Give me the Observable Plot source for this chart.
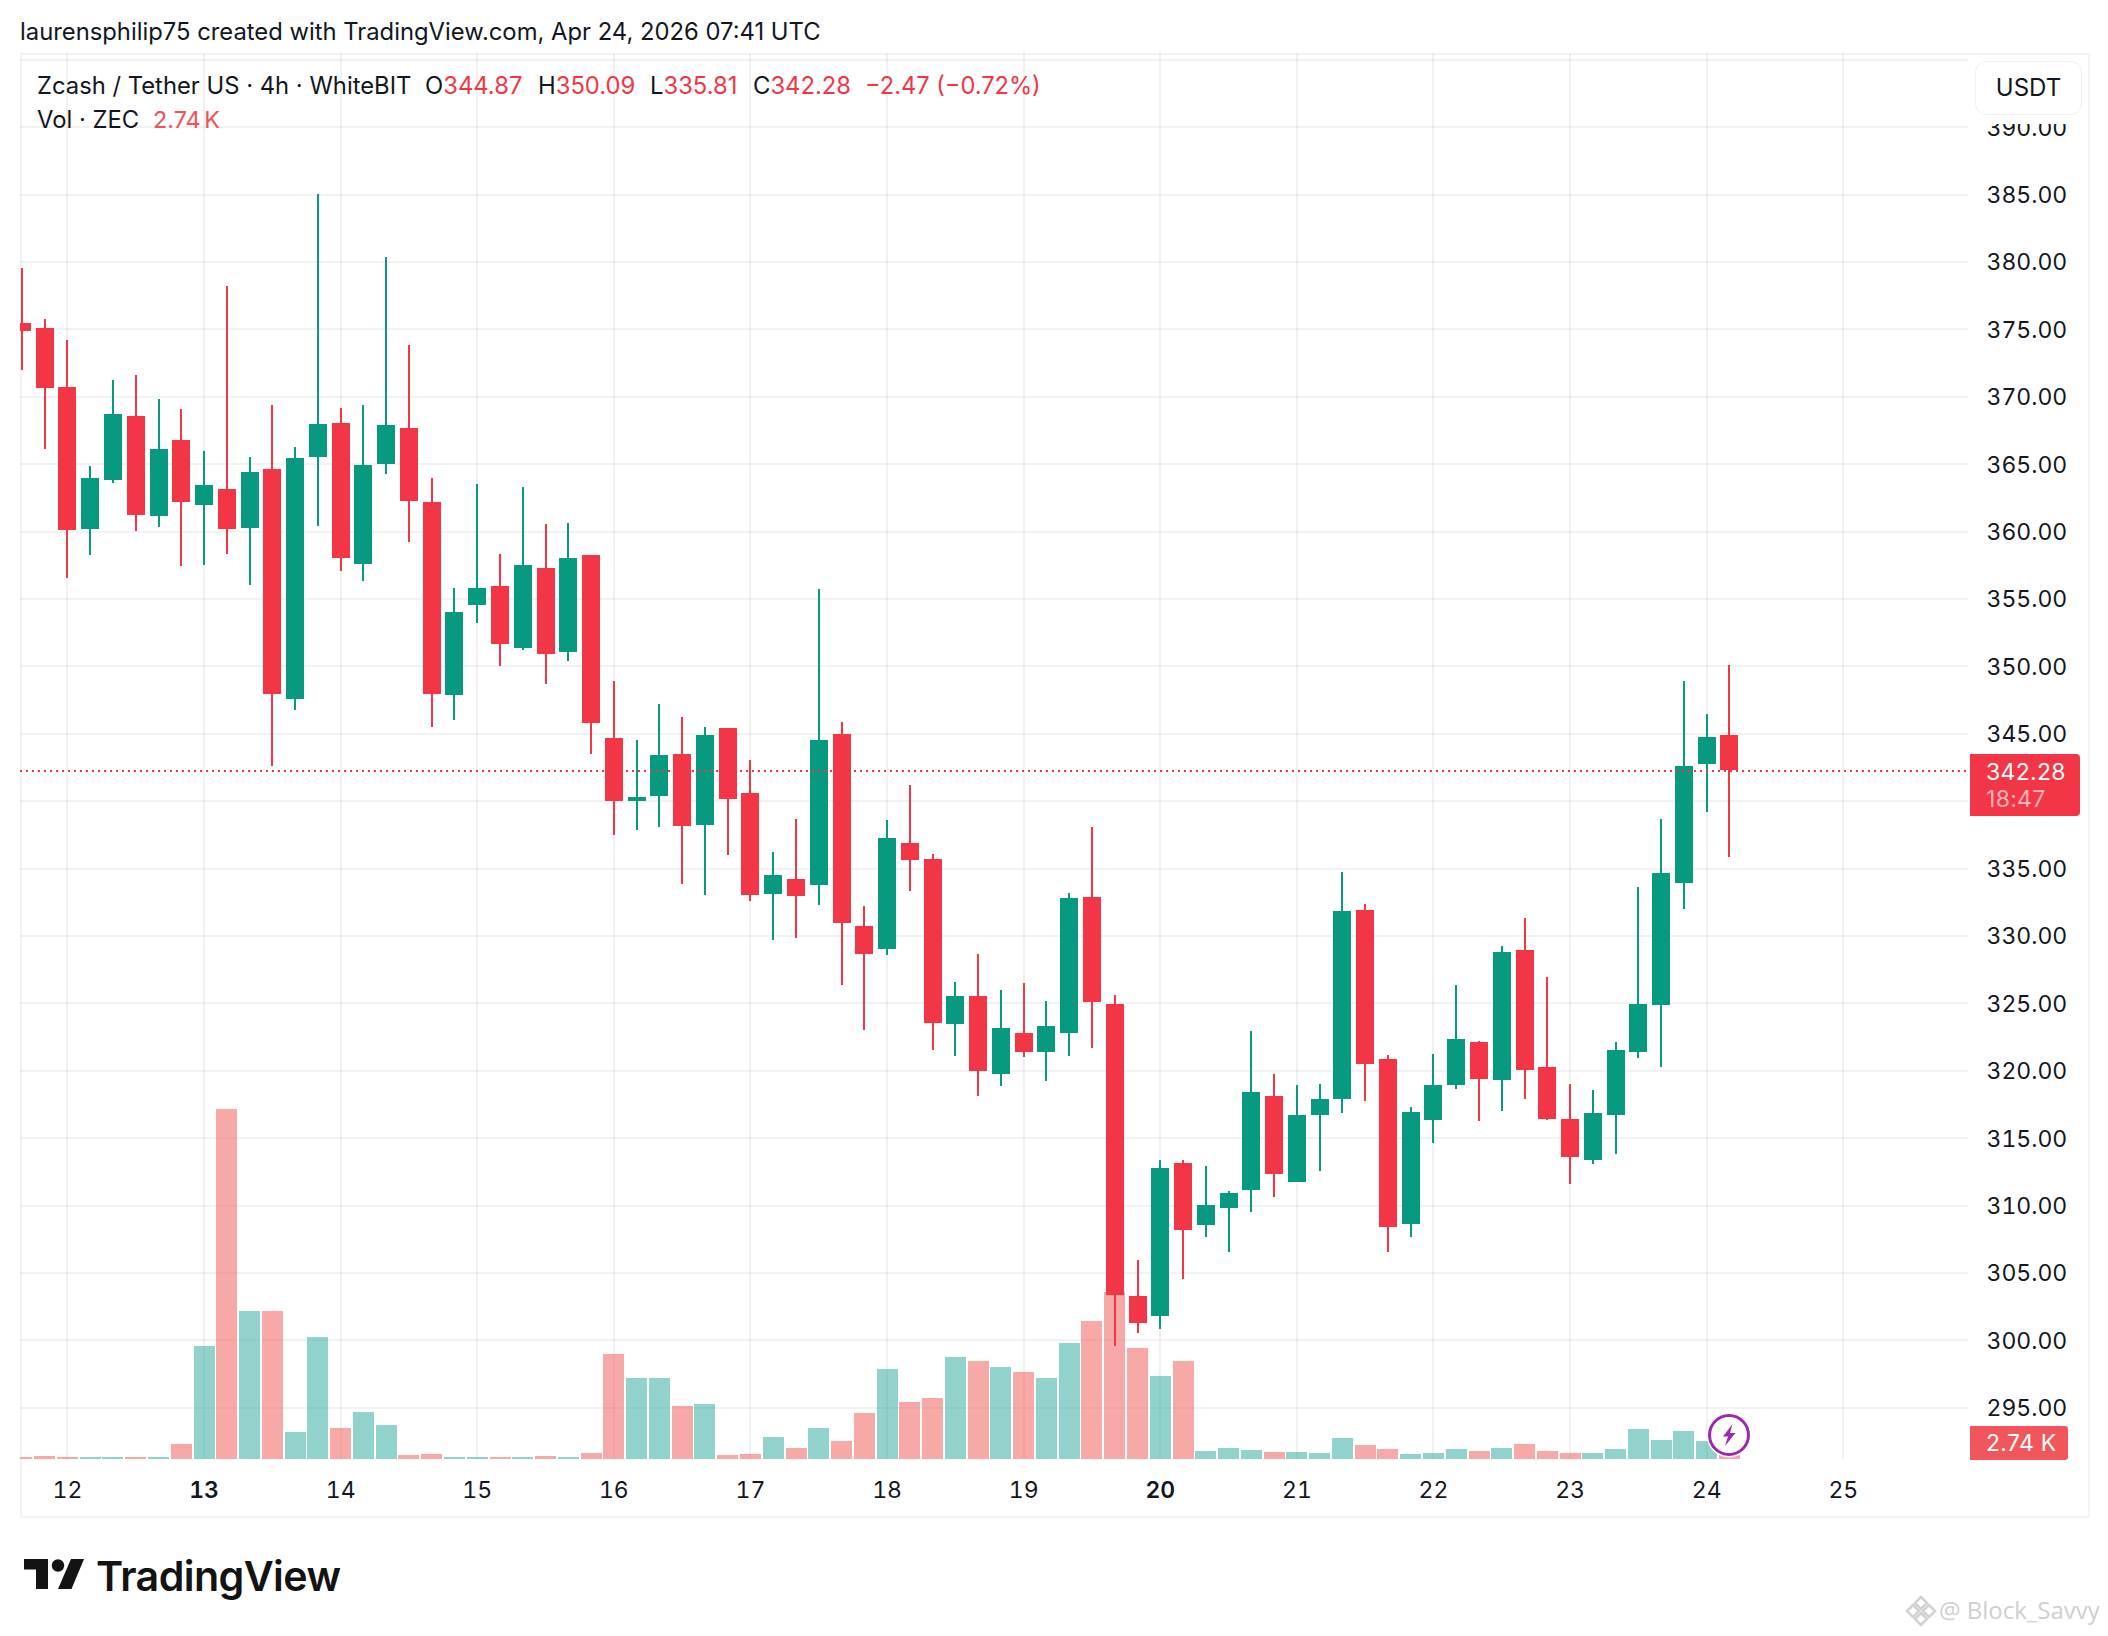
<!DOCTYPE html>
<html>
<head>
<meta charset="utf-8">
<script src="https://cdn.jsdelivr.net/npm/d3@7"></script>
<script src="https://cdn.jsdelivr.net/npm/@observablehq/plot@0.6"></script>
<style>
  html,body{margin:0;padding:0;background:#fff;}
  #page{position:relative;width:2108px;height:1636px;overflow:hidden;font-family:Inter,"Liberation Sans",sans-serif;color:#131722;background:#fff;}
  #page > *{position:absolute;}
  .t{position:absolute;white-space:nowrap;font-size:23.8px;line-height:28px;}
  .r{color:#f23645;}
  svg{display:block;}
</style>
</head>
<body>
<div id="page">
  <div class="t" style="left:20px;top:18px;">laurensphilip75 created with TradingView.com, Apr 24, 2026 07:41 UTC</div>
  <div style="left:20px;top:53px;width:2066px;height:1461px;border:2px solid #f3f3f3;"></div>
  <div id="chart" style="left:0;top:53px;"></div>

  <div class="t" style="left:37px;top:72px;">Zcash / Tether US · 4h · WhiteBIT</div>
  <div class="t" style="left:425px;top:72px;">O<span class="r">344.87</span></div>
  <div class="t" style="left:538px;top:72px;">H<span class="r">350.09</span></div>
  <div class="t" style="left:650px;top:72px;">L<span class="r">335.81</span></div>
  <div class="t" style="left:753px;top:72px;">C<span class="r">342.28</span></div>
  <div class="t r" style="left:865px;top:72px;font-size:23.6px;">−2.47 (−0.72%)</div>
  <div class="t" style="left:37px;top:106px;">Vol · ZEC</div>
  <div class="t r" style="left:153px;top:106px;color:#f0525a;font-size:23.4px;word-spacing:-3px;">2.74 K</div>

  <div style="left:1975px;top:56px;width:107px;height:68px;background:#fff;"></div>
  <div class="t" style="left:1975px;top:61px;width:105px;height:52px;line-height:52px;text-align:center;border:1px solid #f0f0f0;border-radius:11px;background:#fff;font-size:24px;">USDT</div>

  <div style="left:1970px;top:754px;width:110px;height:62px;background:#f23645;border-radius:0 4px 4px 0;"></div>
  <div class="t" style="left:1986px;top:758px;color:#fff;font-size:23px;letter-spacing:.3px;">342.28</div>
  <div class="t" style="left:1986px;top:785px;color:#fbb4ba;font-size:23px;letter-spacing:.3px;">18:47</div>

  <div style="left:1970px;top:1426px;width:98px;height:34px;background:#f0565a;border-radius:0 3px 3px 0;"></div>
  <div class="t" style="left:1986px;top:1429px;color:#fff;font-size:23px;letter-spacing:.3px;">2.74 K</div>

  <svg style="left:1703px;top:1409px;" width="52" height="52" viewBox="0 0 52 52">
    <circle cx="26" cy="26" r="22.5" fill="#fff"/>
    <circle cx="26" cy="26" r="19.5" fill="#fff" stroke="#9c27b0" stroke-width="3"/>
    <path d="M29.5 15 L20 27.5 L25 27.5 L22 37 L32.5 24 L27 24 Z" fill="#9c27b0"/>
  </svg>

  <svg style="left:22px;top:1557px;" width="66" height="34" viewBox="22 1557 66 34">
    <path d="M24 1559H48V1589H36V1569.5H24Z" fill="#131313"/>
    <circle cx="58" cy="1565.5" r="6.2" fill="#131313"/>
    <path d="M71 1559H84L71.5 1589H58Z" fill="#131313"/>
  </svg>
  <div class="t" style="left:96px;top:1551px;font-size:41.2px;line-height:50px;font-weight:600;letter-spacing:-.6px;color:#131313;">TradingView</div>

  <svg style="left:1905px;top:1595px;" width="32" height="32" viewBox="0 0 32 32" fill="none" stroke="#d2d2d2" stroke-width="2.5">
    <path d="M16 2 L22 8 L16 14 L10 8 Z M8 10 L14 16 L8 22 L2 16 Z M24 10 L30 16 L24 22 L18 16 Z M16 18 L22 24 L16 30 L10 24 Z"/>
  </svg>
  <div class="t" style="left:1939px;top:1594px;font-size:24px;line-height:32px;color:#cfcfcf;font-family:'Open Sans',sans-serif;">@ Block_Savvy</div>
</div>
<script>
const open = [375.44,375.07,370.7,360.16,363.8,368.55,361.13,366.77,361.94,363.13,360.24,364.61,347.55,365.5,368.03,357.57,364.99,367.66,362.17,347.85,354.53,355.93,351.34,357.27,351.04,358.23,344.66,339.99,340.36,343.47,338.2,345.4,340.58,333.09,334.2,333.75,344.96,330.71,329,336.87,335.68,323.44,325.52,319.73,322.77,321.37,322.77,332.86,324.93,303.27,301.78,313.13,308.53,309.79,311.13,318.1,311.72,316.69,317.88,331.9,320.85,308.6,316.32,318.92,322.11,319.29,328.93,320.25,316.39,313.35,316.69,321.37,324.85,333.9,342.73,344.87];
const high = [379.5,375.74,374.18,364.84,371.2,371.59,369.81,369.07,365.95,378.19,365.5,369.36,366.25,385,369.14,369.36,380.34,373.81,363.95,355.79,363.5,358.31,363.28,360.53,360.61,358.23,348.89,344.51,347.18,346.22,345.47,345.4,343.03,336.2,338.65,355.7,345.85,332.2,338.58,341.17,336.05,326.56,328.64,325.96,326.48,325.15,333.16,338.06,325.59,305.93,313.35,313.35,312.91,311.05,322.92,319.73,318.92,318.99,334.72,332.34,321.14,317.29,321.22,326.34,322.18,329.23,331.31,326.93,318.99,318.55,322.11,333.61,338.65,348.89,346.44,350.09];
const low = [371.96,366.1,356.53,358.23,363.58,360.01,360.31,357.42,357.49,358.31,356.01,342.6,346.74,360.39,357.05,356.31,364.24,359.2,345.47,345.99,353.19,350,351.19,348.66,350.37,343.47,337.46,337.83,338.06,333.83,333.01,335.98,332.57,329.67,329.82,332.27,326.34,323,328.56,333.31,321.51,321.07,318.1,318.84,321,319.21,321.07,321.66,299.56,300.52,300.82,304.52,307.64,306.53,309.5,310.61,311.72,312.54,316.84,317.73,306.53,307.64,314.61,318.62,316.25,316.99,317.88,316.32,311.6,313.06,313.8,320.92,320.25,331.97,339.17,335.81];
const close = [374.85,370.62,360.09,363.95,368.69,361.2,366.1,362.17,363.43,360.16,364.39,347.92,365.43,367.95,358.01,364.91,367.88,362.24,347.92,354.01,355.79,351.63,357.49,350.89,358.01,345.77,339.99,340.28,343.4,338.13,344.88,340.13,333.01,334.5,332.94,344.51,330.93,328.64,337.24,335.61,323.52,325.52,319.96,323.14,321.37,323.29,332.79,325.07,303.34,301.26,312.76,308.16,310.02,310.9,318.4,312.31,316.69,317.88,331.82,320.47,308.38,316.91,318.92,322.33,319.36,328.78,320.03,316.39,313.58,316.84,321.51,324.93,334.64,342.58,344.73,342.28];
const volumeK = [1.3,2.05,1.3,1.3,1.3,1.3,1.3,10.3,77.4,240,101.4,101.7,18.5,83.6,21.2,32.2,23.3,2.5,3.4,1.3,1.3,1.3,1.3,2.05,1.3,4.1,71.9,55.5,55.5,36.3,37.7,2.7,3.4,15.1,7.5,21.2,12.3,31.5,61.7,39,41.8,69.9,67.1,63,59.6,55.5,79.5,94.5,114.4,76,56.9,67.1,5.5,7.5,6.2,4.8,4.8,4.1,14.4,9.6,6.9,3.4,4.1,6.9,5.5,7.5,10.3,5.5,4.1,4.1,6.9,20.6,13,19.2,12.3,2.74];
const priceTicks = [295,300,305,310,315,320,325,330,335,345,350,355,360,365,370,375,380,385,390];
const gridPrices = [295,300,305,310,315,320,325,330,335,340,345,350,355,360,365,370,375,380,385,390,395];
const dayLabels = [12,13,14,15,16,17,18,19,20,21,22,23,24,25];
const boldDays = [13,20];
const lastPrice = 342.28;
const upColor = "#089981", downColor = "#f23645";
const upVol = "#26a69a", downVol = "#ef5350";

const firstBar = new Date(Date.UTC(2026,3,11,16));
const day = d => new Date(Date.UTC(2026,3,d));
const bars = open.map((o,i) => ({
  t: d3.utcHour.offset(firstBar, 4*i),
  open:o, high:high[i], low:low[i], close:close[i], vol:volumeK[i],
  color: close[i] >= o ? upColor : downColor,
  volColor: close[i] >= o ? upVol : downVol
}));

// Volume shares the pane with price: its own scale is mapped onto the price axis.
const priceDomain = [291.17, 395.47];
const volToPrice = d3.scaleLinear([0, 240], [priceDomain[0], 317.16]);

const allDays = dayLabels.map(day);
const fmt = d => String(d.getUTCDate());
const axisFont = {tickSize:0, fontSize:23, tickFormat:fmt, label:null, anchor:"bottom", tickPadding:22};

const chart = Plot.plot({
  width:2108, height:1463,
  marginLeft:20, marginRight:140, marginTop:0, marginBottom:57,
  style:{fontFamily:"Inter, sans-serif", background:"transparent", color:"#131722", overflow:"visible"},
  x:{type:"utc", domain:[new Date(Date.UTC(2026,3,11,15,45)), new Date(Date.UTC(2026,3,25,22))]},
  y:{domain:priceDomain},
  color:{type:"identity"},
  marks:[
    Plot.gridY(gridPrices,{stroke:"#000",strokeOpacity:0.05,strokeWidth:2,shapeRendering:"crispEdges"}),
    Plot.gridX(allDays,{stroke:"#000",strokeOpacity:0.055,strokeWidth:2,shapeRendering:"crispEdges"}),
    Plot.ruleX(bars,{x:"t",y1:priceDomain[0],y2:d=>volToPrice(d.vol),stroke:"volColor",strokeOpacity:0.5,strokeWidth:21,clip:"frame",shapeRendering:"crispEdges"}),
    Plot.ruleX(bars,{x:"t",y1:"low",y2:"high",stroke:"color",strokeWidth:2,clip:"frame",shapeRendering:"crispEdges"}),
    Plot.ruleX(bars,{x:"t",y1:"open",y2:"close",stroke:"color",strokeWidth:18,clip:"frame",shapeRendering:"crispEdges"}),
    Plot.ruleY([lastPrice],{stroke:downColor,strokeWidth:2,strokeDasharray:"2,4",shapeRendering:"crispEdges"}),
    Plot.axisY({anchor:"right",ticks:priceTicks,tickSize:0,tickPadding:18,fontSize:23,dy:1,label:null,tickFormat:d3.format(".2f")}),
    Plot.axisX({...axisFont,ticks:dayLabels.filter(d=>!boldDays.includes(d)).map(day)}),
    Plot.axisX({...axisFont,ticks:boldDays.map(day),fontWeight:600})
  ]
});
document.getElementById("chart").appendChild(chart);
</script>
</body>
</html>
